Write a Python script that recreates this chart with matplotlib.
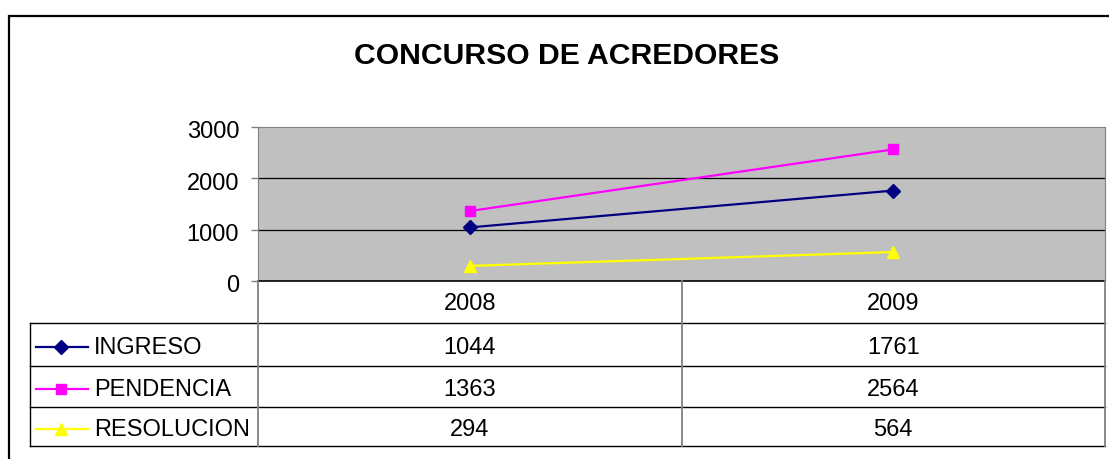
import matplotlib.pyplot as plt
import matplotlib.transforms as mtrans
from matplotlib.lines import Line2D
from matplotlib.patches import Rectangle

plt.rcParams['font.family'] = ['Liberation Sans', 'DejaVu Sans']

# datos
anios = ['2008', '2009']
ingreso = [1044, 1761]
pendencia = [1363, 2564]
resolucion = [294, 564]
series = ['INGRESO', 'PENDENCIA', 'RESOLUCION']
valores = [ingreso, pendencia, resolucion]
colores = ['#000080', '#FF00FF', '#FFFF00']
marcadores = ['D', 's', '^']
tam_marc = [7, 7, 9]

W, H = 1109, 460
fig = plt.figure(figsize=(W / 100, H / 100), dpi=100)
fs = 17


def fx(x):
    return x / W


def fy(y):
    return 1 - y / H


def linea(x0, y0, x1, y1, color='black', lw=1.0):
    fig.add_artist(Line2D([fx(x0), fx(x1)], [fy(y0), fy(y1)], color=color,
                          lw=lw, transform=fig.transFigure))


# marco exterior
fig.add_artist(Rectangle((fx(9), fy(470)), fx(1120) - fx(9), fy(17) - fy(470),
                         fill=False, ec='black', lw=1.6, transform=fig.transFigure))

fig.text(fx(567), fy(56), 'CONCURSO DE ACREDORES', ha='center', va='center',
         fontsize=21.7, fontweight='bold')

# area del grafico
izq, der, arriba, abajo = 258, 1105, 128, 282
ax = fig.add_axes([fx(izq), fy(abajo), fx(der) - fx(izq), fy(arriba) - fy(abajo)])
ax.set_facecolor('#C0C0C0')
ax.set_xlim(-0.5, len(anios) - 0.5)
ax.set_ylim(0, 3000)
ax.set_yticks([0, 1000, 2000, 3000])
ax.tick_params(axis='y', length=5, width=1, color='#808080', pad=8.5, labelsize=fs)
bajar = mtrans.ScaledTranslation(0, -2 / 100, fig.dpi_scale_trans)
for lab in ax.get_yticklabels():
    lab.set_transform(lab.get_transform() + bajar)
ax.set_xticks([])
for y in [1000, 2000]:
    ax.axhline(y, color='black', lw=0.9)
for s in ['left', 'top', 'right']:
    ax.spines[s].set_color('#808080')
ax.spines['bottom'].set_color('black')
ax.spines['bottom'].set_linewidth(1.2)

xs = list(range(len(anios)))
for vals, c, m, ms in zip(valores, colores, marcadores, tam_marc):
    ax.plot(xs, vals, color=c, marker=m, markersize=ms, lw=1.6,
            markeredgecolor=c, clip_on=False)

# tabla de datos
filas = [282, 324, 367, 408, 447]
col_izq = 30
cols = [izq, 682, der]
for y in filas[1:]:
    linea(col_izq, y, der, y)
linea(col_izq, filas[1], col_izq, filas[-1])
for x in cols:
    linea(x, filas[0], x, filas[-1], color='#808080', lw=1.3)

# centros de columnas a partir de la escala del eje
to_fig = ax.transData + fig.transFigure.inverted()
for i, a in enumerate(anios):
    cx = to_fig.transform((i, 0))[0]
    fig.text(cx, fy((filas[0] + filas[1]) / 2 + 1), a, ha='center', va='center', fontsize=fs)
    for r, vals in enumerate(valores):
        cy = fy((filas[r + 1] + filas[r + 2]) / 2 + 2.5)
        fig.text(cx, cy, str(vals[i]), ha='center', va='center', fontsize=fs)

for r, (nombre, c, m, ms) in enumerate(zip(series, colores, marcadores, tam_marc)):
    yy = (filas[r + 1] + filas[r + 2]) / 2 + 2.5
    fig.add_artist(Line2D([fx(36), fx(88)], [fy(yy), fy(yy)], color=c, lw=1.6,
                          transform=fig.transFigure))
    fig.add_artist(Line2D([fx(61)], [fy(yy)], color=c, marker=m, markersize=ms,
                          markeredgecolor=c, transform=fig.transFigure))
    fig.text(fx(94), fy(yy), nombre, ha='left', va='center', fontsize=fs)

fig.savefig('out.png', dpi=100)
